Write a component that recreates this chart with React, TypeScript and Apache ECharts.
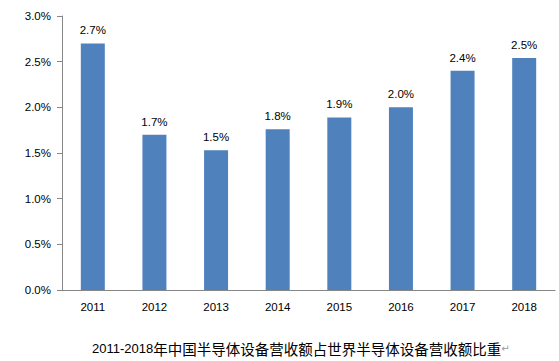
import React, { useEffect, useRef } from "react";
import * as echarts from "echarts";

const categories = ["2011", "2012", "2013", "2014", "2015", "2016", "2017", "2018"];
const shareValues = [2.7, 1.7, 1.53, 1.76, 1.89, 2.0, 2.4, 2.54];
const yTicks = { min: 0, max: 3, interval: 0.5 };
const titleYears = "2011-2018";
const titleText = "年中国半导体设备营收额占世界半导体设备营收额比重";
const titleMark = "↵";

export default function App() {
  const ref = useRef<HTMLDivElement>(null);
  useEffect(() => {
    if (!ref.current) return;
    const chart = echarts.init(ref.current, null, { renderer: "svg" });
    const axisColor = "#868686";
    const font = "'Liberation Sans', Arial, sans-serif";
    chart.setOption({
      animation: false,
      title: {
        left: 92,
        top: 338,
        padding: 0,
        text: `{a|${titleYears}}{b|${titleText}}{c|${titleMark}}`,
        textStyle: {
          fontWeight: "normal",
          rich: {
            a: { fontSize: 13, fontFamily: font, color: "#000", fontWeight: "normal", lineHeight: 20 },
            b: { fontSize: 14.5, fontFamily: "'Noto Sans CJK SC', sans-serif", color: "#000", fontWeight: "normal", lineHeight: 20 },
            c: { fontSize: 10, fontFamily: "'DejaVu Sans', sans-serif", color: "#999", fontWeight: "normal", lineHeight: 20 },
          },
        },
      },
      grid: { left: 62, right: 4, top: 16, bottom: 71, containLabel: false },
      xAxis: {
        type: "category",
        data: categories,
        axisLine: { lineStyle: { color: axisColor } },
        axisTick: { length: 5, lineStyle: { color: axisColor } },
        axisLabel: { color: "#000", fontSize: 11.5, fontFamily: font, margin: 11 },
      },
      yAxis: {
        type: "value",
        min: yTicks.min,
        max: yTicks.max,
        interval: yTicks.interval,
        splitLine: { show: false },
        axisLine: { show: true, lineStyle: { color: axisColor } },
        axisTick: { show: true, length: 5, lineStyle: { color: axisColor } },
        axisLabel: {
          color: "#000",
          fontSize: 11.5,
          fontFamily: font,
          margin: 11,
          formatter: (v: number) => v.toFixed(1) + "%",
        },
      },
      series: [
        {
          type: "bar",
          data: shareValues,
          barWidth: 24,
          itemStyle: { color: "#4F81BD" },
          label: {
            show: true,
            position: "top",
            distance: 7,
            color: "#000",
            fontSize: 11.5,
            fontFamily: font,
            formatter: (p: any) => Number(p.value).toFixed(1) + "%",
          },
        },
      ],
    });
    return () => chart.dispose();
  }, []);
  return <div ref={ref} style={{ width: 559, height: 361, position: "absolute", left: 0, top: 0 }} />;
}
